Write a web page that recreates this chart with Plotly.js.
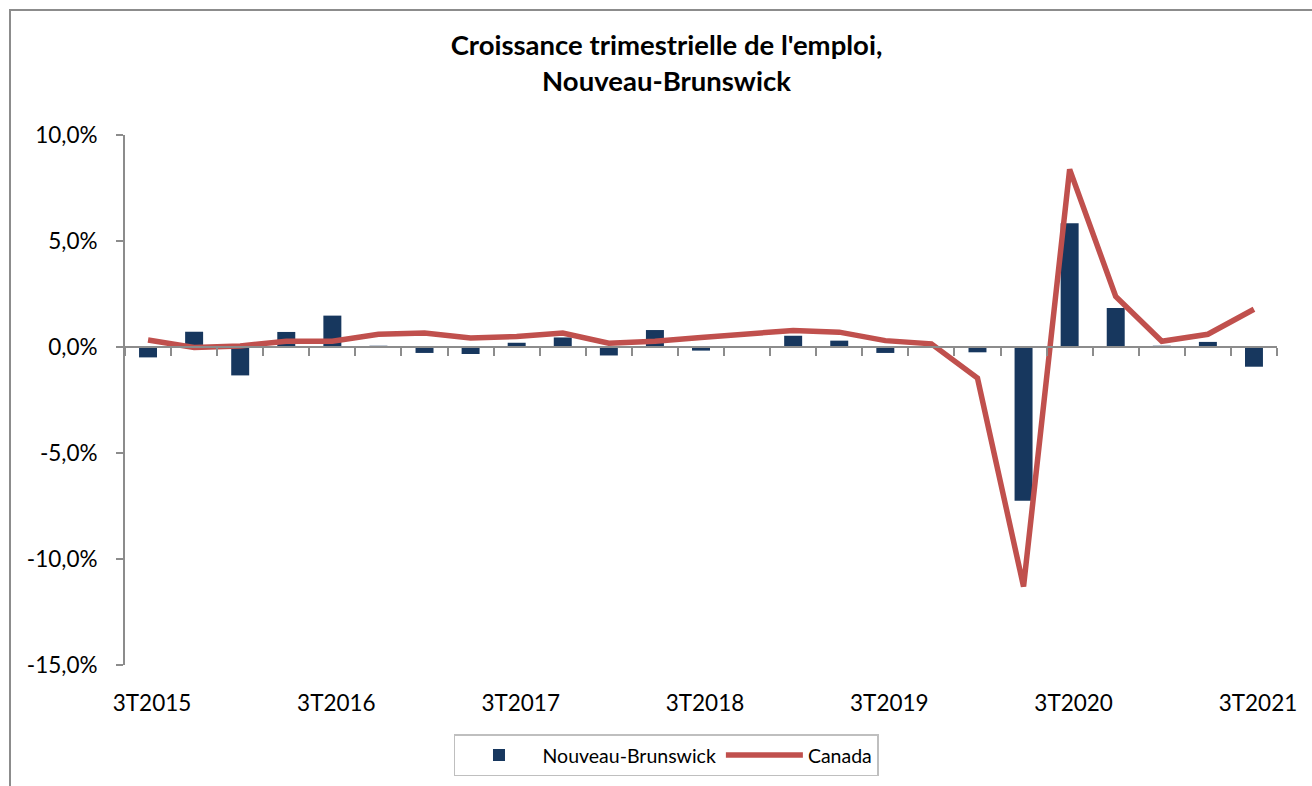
<!DOCTYPE html>
<html>
<head>
<meta charset="utf-8">
<script src="https://cdn.plot.ly/plotly-3.0.1.min.js"></script>
<style>
  html, body { margin: 0; padding: 0; background: #fff; overflow: hidden; }
  #wrap { position: relative; width: 1312px; height: 786px; }
  #chart { position: absolute; left: 0; top: 0; width: 1312px; height: 786px; }
  #frame { position: absolute; left: 9px; top: 9px; width: 1400px; height: 900px;
           border: 2px solid #8c8c8c; pointer-events: none; box-sizing: border-box; }
</style>
</head>
<body>
<div id="wrap">
  <div id="chart"></div>
  <div id="frame"></div>
</div>
<script>
const quarters = ['3T2015','4T2015','1T2016','2T2016','3T2016','4T2016','1T2017','2T2017',
                  '3T2017','4T2017','1T2018','2T2018','3T2018','4T2018','1T2019','2T2019',
                  '3T2019','4T2019','1T2020','2T2020','3T2020','4T2020','1T2021','2T2021','3T2021'];
const nouveauBrunswick = [-0.49, 0.72, -1.34, 0.71, 1.48, 0.06, -0.28, -0.33, 0.20, 0.45, -0.40, 0.80,
                          -0.17, -0.03, 0.53, 0.30, -0.28, 0.02, -0.25, -7.25, 5.84, 1.84, 0.06, 0.24, -0.93];
const canada = [0.33, -0.02, 0.05, 0.27, 0.27, 0.60, 0.66, 0.42, 0.50, 0.66, 0.18, 0.27,
                0.45, 0.60, 0.78, 0.70, 0.30, 0.15, -1.47, -11.3, 8.38, 2.38, 0.27, 0.60, 1.78];
const xTickLabels = ['3T2015','3T2016','3T2017','3T2018','3T2019','3T2020','3T2021'];
const yTickValues = [-15, -10, -5, 0, 5, 10];
const yTickLabels = ['-15,0%','-10,0%','-5,0%','0,0%','5,0%','10,0%'];

const FONT = 'Lato, "Open Sans", sans-serif';
const AXIS_GREY = '#8c8c8c';

const traces = [
  {
    type: 'bar', name: 'Nouveau-Brunswick', x: quarters, y: nouveauBrunswick,
    marker: { color: '#17375E' }, hoverinfo: 'skip'
  },
  {
    type: 'scatter', mode: 'lines', name: 'Canada', x: quarters, y: canada,
    line: { color: '#C0504D', width: 5.5 }, hoverinfo: 'skip'
  },
  {
    type: 'scatter', mode: 'lines', x: quarters, y: quarters.map(() => null),
    xaxis: 'x2', showlegend: false, hoverinfo: 'skip'
  }
];

const layout = {
  width: 1312, height: 786,
  margin: { l: 125, r: 35, t: 135, b: 121 },
  paper_bgcolor: '#fff', plot_bgcolor: '#fff',
  font: { family: FONT, size: 22, color: '#000' },
  title: {
    text: "Croissance trimestrielle de l'emploi,<br>Nouveau-Brunswick",
    font: { family: FONT, size: 27.5, color: '#000', weight: 'bold' },
    xref: 'container', x: 0.508, xanchor: 'center',
    yref: 'container', y: 0.93, yanchor: 'top'
  },
  bargap: 0.61,
  showlegend: true,
  legend: {
    orientation: 'h', xref: 'container', yref: 'container',
    x: 0.508, xanchor: 'center', y: 0.039, yanchor: 'middle',
    bordercolor: '#bfbfbf', borderwidth: 1.5,
    font: { family: FONT, size: 19.5, color: '#000' },
    itemwidth: 77,
    traceorder: 'normal'
  },
  xaxis: {
    type: 'category', categoryorder: 'array', categoryarray: quarters,
    range: [-0.5, quarters.length - 0.5],
    showline: false, showgrid: false, zeroline: false, ticks: '',
    tickmode: 'array', tickvals: xTickLabels, ticktext: xTickLabels,
    tickfont: { family: FONT, size: 22.5, color: '#000' },
    ticklabelstandoff: 22, ticklabelshift: 4, fixedrange: true
  },
  xaxis2: {
    type: 'category', categoryorder: 'array', categoryarray: quarters,
    matches: 'x', overlaying: 'x', anchor: 'free', position: 0.6,
    range: [-0.5, quarters.length - 0.5],
    showline: true, linecolor: AXIS_GREY, linewidth: 2,
    showgrid: false, zeroline: false,
    ticks: 'outside', tickson: 'boundaries', ticklen: 8, tickwidth: 2, tickcolor: AXIS_GREY,
    dtick: 1, showticklabels: false, fixedrange: true
  },
  yaxis: {
    range: [-15, 10], showgrid: false, zeroline: false,
    showline: true, linecolor: AXIS_GREY, linewidth: 2,
    ticks: 'outside', ticklen: 7, tickwidth: 2, tickcolor: AXIS_GREY,
    tickmode: 'array', tickvals: yTickValues, ticktext: yTickLabels,
    tickfont: { family: FONT, size: 22.5, color: '#000' },
    ticklabelstandoff: 14, fixedrange: true
  }
};

Plotly.newPlot('chart', traces, layout, { displayModeBar: false, staticPlot: true });
</script>
</body>
</html>
